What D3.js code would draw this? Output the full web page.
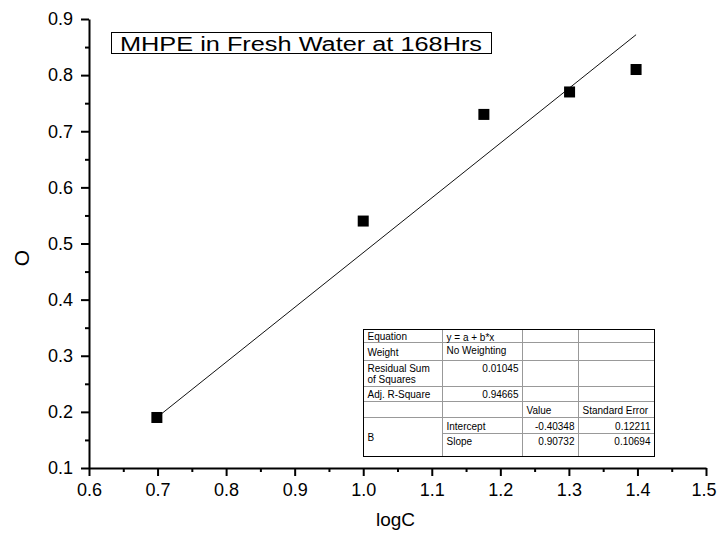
<!DOCTYPE html>
<html>
<head>
<meta charset="utf-8">
<script src="https://cdn.jsdelivr.net/npm/d3@7"></script>
<style>
  html, body { margin: 0; padding: 0; background: #fff; }
  svg { display: block; font-family: "Liberation Sans", Arial, sans-serif; }
</style>
</head>
<body>
<svg id="chart" width="717" height="535"></svg>
<script>
// ---- data ----
const logC = [0.699, 1.0, 1.176, 1.301, 1.398];
const qValues = [0.19, 0.54, 0.73, 0.77, 0.81];
const fitX = [0.699, 1.398];
const fitY = [0.19, 0.872];
const xTicks = [0.6, 0.7, 0.8, 0.9, 1.0, 1.1, 1.2, 1.3, 1.4, 1.5];
const yTicks = [0.1, 0.2, 0.3, 0.4, 0.5, 0.6, 0.7, 0.8, 0.9];
const titleText = "MHPE in Fresh Water at 168Hrs";
const xTitle = "logC";
const yTitle = "O";
const tableRows = [
  ["Equation", "y = a + b*x", "", ""],
  ["Weight", "No Weighting", "", ""],
  ["Residual Sum|of Squares", "0.01045", "", ""],
  ["Adj. R-Square", "0.94665", "", ""],
  ["", "", "Value", "Standard Error"],
  ["B", "Intercept", "-0.40348", "0.12211"],
  ["", "Slope", "0.90732", "0.10694"]
];

// ---- layout ----
const svg = d3.select("#chart");
const x = d3.scaleLinear().domain([0.6, 1.5]).range([89, 706]);
const y = d3.scaleLinear().domain([0.1, 0.9]).range([468, 19]);

const minor = (ticks) => d3.pairs(ticks).map(([a, b]) => +((a + b) / 2).toFixed(3));

// minor ticks
svg.append("g").attr("transform", `translate(0,${y(0.1)})`)
  .call(d3.axisBottom(x).tickValues(minor(xTicks)).tickSize(4).tickSizeOuter(0).tickFormat(""))
  .call(g => g.select(".domain").remove())
  .call(g => g.selectAll("line").attr("stroke", "#000").attr("stroke-width", 2));
svg.append("g").attr("transform", `translate(${x(0.6)},0)`)
  .call(d3.axisLeft(y).tickValues(minor(yTicks)).tickSize(4).tickSizeOuter(0).tickFormat(""))
  .call(g => g.select(".domain").remove())
  .call(g => g.selectAll("line").attr("stroke", "#000").attr("stroke-width", 2));

// major axes
const xAxis = svg.append("g").attr("transform", `translate(0,${y(0.1)})`)
  .call(d3.axisBottom(x).tickValues(xTicks).tickSize(8).tickSizeOuter(0).tickPadding(7).tickFormat(d3.format(".1f")));
const yAxis = svg.append("g").attr("transform", `translate(${x(0.6)},0)`)
  .call(d3.axisLeft(y).tickValues(yTicks).tickSize(8).tickSizeOuter(0).tickPadding(8).tickFormat(d3.format(".1f")));
[xAxis, yAxis].forEach(g => {
  g.select(".domain").attr("stroke", "#000").attr("stroke-width", 2);
  g.selectAll(".tick line").attr("stroke", "#000").attr("stroke-width", 2);
  g.selectAll(".tick text").attr("fill", "#000").style("font-size", "18px")
    .style("font-family", "'Liberation Sans', Arial, sans-serif");
});
// keep the last x label inside the window edge
xAxis.selectAll(".tick").filter(d => d === 1.5).select("text")
  .attr("text-anchor", "end").attr("x", 10);

// axis titles
svg.append("text").attr("x", (x(0.6) + x(1.5)) / 2 - 2).attr("y", 526)
  .attr("text-anchor", "middle").style("font-size", "19px").text(xTitle);
svg.append("text").attr("transform", `translate(29,258) rotate(-90)`)
  .attr("text-anchor", "middle").style("font-size", "21px").text(yTitle);

// fit line
svg.append("path")
  .datum(d3.zip(fitX, fitY))
  .attr("d", d3.line().x(d => x(d[0])).y(d => y(d[1])))
  .attr("fill", "none").attr("stroke", "#111").attr("stroke-width", 1);

// points
const sq = 11;
svg.selectAll("rect.pt").data(d3.zip(logC, qValues)).join("rect")
  .attr("class", "pt")
  .attr("x", d => x(d[0]) - sq / 2).attr("y", d => y(d[1]) - sq / 2)
  .attr("width", sq).attr("height", sq).attr("fill", "#000");

// title box
svg.append("rect").attr("x", 111.5).attr("y", 32.5).attr("width", 380).attr("height", 21)
  .attr("fill", "#fff").attr("stroke", "#000").attr("stroke-width", 1);
svg.append("text").attr("x", 120).attr("y", 50.5).style("font-size", "19.5px")
  .attr("textLength", 362).attr("lengthAdjust", "spacingAndGlyphs").text(titleText);

// stats table
const colX = [363.5, 442.5, 522.5, 578.5, 654.5];
const rowY = [329.5, 342.5, 360.5, 386.5, 401.5, 417.5, 433.5, 456.5];
const tbl = svg.append("g").style("font-size", "10px");
tbl.append("rect").attr("x", colX[0]).attr("y", rowY[0])
  .attr("width", colX[4] - colX[0]).attr("height", rowY[7] - rowY[0])
  .attr("fill", "#fff");
// horizontal inner lines
rowY.slice(1, 7).forEach((ry, i) => {
  const startCol = (i === 5) ? colX[1] : colX[0]; // line between Intercept and Slope spans cols 2-4
  tbl.append("line").attr("x1", startCol).attr("x2", colX[4]).attr("y1", ry).attr("y2", ry)
    .attr("stroke", "#999").attr("stroke-width", 1);
});
colX.slice(1, 4).forEach(cx => {
  tbl.append("line").attr("x1", cx).attr("x2", cx).attr("y1", rowY[0]).attr("y2", rowY[7])
    .attr("stroke", "#999").attr("stroke-width", 1);
});
tbl.append("rect").attr("x", colX[0]).attr("y", rowY[0])
  .attr("width", colX[4] - colX[0]).attr("height", rowY[7] - rowY[0])
  .attr("fill", "none").attr("stroke", "#000").attr("stroke-width", 1);

const isNum = s => /^-?\d/.test(s);
tableRows.forEach((row, r) => {
  row.forEach((cell, c) => {
    if (!cell) return;
    let top = rowY[r], bottom = rowY[r + 1];
    if (c === 0 && cell === "B") bottom = rowY[7];
    const lines = cell.split("|");
    const right = isNum(cell);
    const tx = right ? colX[c + 1] - 4 : colX[c] + 4;
    let base;
    if (c === 0) base = (top + bottom) / 2 + 4 - (lines.length - 1) * 5.5;
    else if (r <= 3) base = top + 11;
    else base = (top + bottom) / 2 + 4;
    if (r === 6) base = top + 11;
    lines.forEach((ln, k) => {
      tbl.append("text").attr("x", tx).attr("y", base + k * 11)
        .attr("text-anchor", right ? "end" : "start").attr("fill", "#000").text(ln);
    });
  });
});
</script>
</body>
</html>
